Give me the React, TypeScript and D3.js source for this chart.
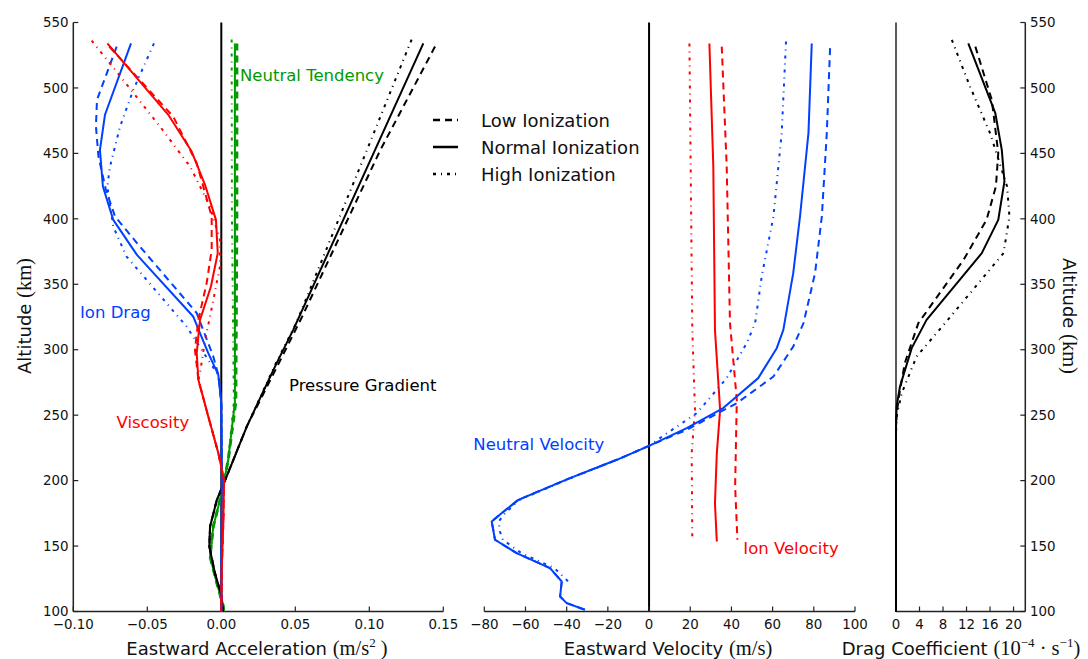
import React from 'react';
import * as d3 from 'd3';

const W = 1088;
const H = 659;

// altitude ticks shared by the three panels
const altTicks = [100, 150, 200, 250, 300, 350, 400, 450, 500, 550];
const accTicks = [-0.1, -0.05, 0, 0.05, 0.1, 0.15];
const velTicks = [-80, -60, -40, -20, 0, 20, 40, 60, 80, 100];
const dragTicks = [0, 4, 8, 12, 16, 20];

const legendLabels = ['Low Ionization', 'Normal Ionization', 'High Ionization'];

// [altitude km, value] pairs
// --- accelerations (m/s^2)
const ionDragTail = [[280.8, -0.002], [259.4, 0.0], [230, 0.0002], [200, 0.0004], [150, 0.0002], [100, 0.0]];
const ionDragNormal = [[534, -0.061], [479.5, -0.0786], [452.7, -0.082], [424.7, -0.08], [399.2, -0.073], [372.5, -0.057], [325.4, -0.019], [312.7, -0.0144], [297.4, -0.0088]];
const ionDragLow = [[531.6, -0.0707], [490.9, -0.084], [470.5, -0.0847], [447.6, -0.083], [422.2, -0.078], [401.8, -0.0718], [378.8, -0.055], [328, -0.0166], [294.8, -0.0054]];
const ionDragHigh = [[534, -0.0455], [498.5, -0.0595], [470.5, -0.0684], [440, -0.0752], [424.7, -0.077], [394, -0.073], [371.2, -0.064], [317.7, -0.0234], [290, -0.0076]];

const viscTail = [[277, -0.0155], [249, -0.0088], [221, -0.002], [200.6, 0.0018], [170, 0.0014], [131.9, 0.0003], [100, 0.0]];
const viscNormal = [[534, -0.077], [479.5, -0.0358], [451.4, -0.02], [426, -0.011], [399.2, -0.0036], [373.8, -0.0024], [348.3, -0.007], [322.8, -0.0144], [297.4, -0.0166]];
const viscLow = [[531.6, -0.0757], [478, -0.0324], [442.5, -0.0166], [401.8, -0.0065], [376.3, -0.0065], [350.9, -0.0099], [322.8, -0.0155], [299.9, -0.0178]];
const viscHigh = [[536.2, -0.0876], [502.8, -0.064], [470.5, -0.0414], [440, -0.0211], [409.4, -0.0076], [384, -0.0009], [363.5, -0.0009], [325.4, -0.0076], [307.5, -0.011], [282, -0.0144]];

const tendTail = [[216, 0.0047], [200, 0.002], [190.6, 0.0003], [165, -0.0054], [142, -0.0076], [121.7, -0.003], [103.8, 0.0014], [100, 0.0015]];
const tendNormal = [[534, 0.0092], [400, 0.0092], [260, 0.0092]];
const tendLow = [[534, 0.0105], [400, 0.0105], [260, 0.0098]];
const tendHigh = [[537, 0.007], [400, 0.0072], [260, 0.0085]];

const pressTail = [[241.3, 0.0172], [203.1, 0.0036], [185.3, -0.003], [165, -0.0076], [149.7, -0.0081], [129.3, -0.0043], [111.5, 0.0003], [100, 0.001]];
const pressNormal = [[534, 0.1365], [452.7, 0.1039], [315.2, 0.0486], [289.8, 0.0374]];
const pressLow = [[531.6, 0.1444], [452, 0.1072], [325, 0.0545], [290, 0.039]];
const pressHigh = [[537, 0.1286], [452, 0.0982], [320, 0.0505], [290, 0.037]];

// --- velocities (m/s)
const neutVelTail = [[226.6, 0], [215.9, -15.7], [201.9, -38.4], [185.3, -63.5], [175.2, -71.5], [168.8, -76.4], [154.8, -74.8], [144.6, -64.3], [133.2, -48.1], [122.9, -42.4], [111.5, -43.2], [106.4, -40], [101.3, -31.1]];
const neutVelNormal = [[534, 79], [465.5, 77.4], [401.8, 73.3], [358.5, 70], [315.2, 65.2], [301.2, 62], [278.3, 53], [255.4, 36], [240.1, 18.3]];
const neutVelLow = [[530.4, 87.9], [465.5, 86.3], [401.8, 83.9], [358.5, 80.6], [320.3, 75], [302.4, 70], [279.5, 60.4], [259.2, 42.6], [238.8, 18.3]];
const neutVelHigh = [[535.5, 66.5], [465.5, 64.4], [401.8, 60.4], [356, 54.7], [320.3, 51.5], [305, 47.4], [278.3, 37.7], [251.6, 23.2], [232.5, 5.3], [226.6, 0], [215.9, -15.5], [201.9, -38], [185.3, -63], [175, -70], [168.8, -73], [161.1, -72.4], [154.8, -71], [144.6, -62], [133.2, -46], [122.9, -39.2]];

const ionVelNormal = [[534, 29.3], [440, 31.2], [315.2, 32], [254, 34.5], [221, 32.9], [182.8, 32], [153.5, 32.9]];
const ionVelLow = [[531.6, 35.3], [440, 37.7], [320.3, 39.3], [261.7, 42.6], [195.5, 41.8], [154.8, 42.9]];
const ionVelHigh = [[534, 19.6], [315.2, 21], [254, 22.3], [221, 20.7], [154.8, 21]];

// --- drag coefficient (1e-4 /s)
const dragNormal = [[534, 12.3], [480.7, 16.9], [452.7, 18], [428.5, 18.45], [399.2, 17.4], [373.8, 14.6], [322.8, 5.2], [301.2, 2.67], [271.9, 0.68], [256.6, 0.1], [240, 0], [100, 0]];
const dragLow = [[531.6, 13.5], [490.9, 16.3], [450.2, 17.4], [424.7, 17], [399.2, 15.4], [368.7, 11.5], [320.3, 3.8], [289.8, 1.5], [261.7, 0.4], [245, 0], [100, 0]];
const dragHigh = [[536.7, 9.5], [501, 12.6], [465.5, 16], [424.7, 18.9], [401.8, 19.3], [373.8, 18.3], [320.3, 8.35], [294.8, 3.5], [266.8, 0.97], [249, 0.1], [235, 0], [100, 0]];

const RED = '#ff0000';
const BLUE = '#0040ff';
const GREEN = '#009a00';
const BLACK = '#000000';

const DASH = '7,5';
const DASHDOT = '3,5,1,5';

const sans = 'DejaVu Sans';
const serif = 'Liberation Serif';
const LABEL = 18;
const MATH = 20.5;
const SUP = 13;

const y = d3.scaleLinear().domain([100, 550]).range([611.5, 22.5]);
const xAcc = d3.scaleLinear().domain([-0.1, 0.15]).range([73.3, 443.3]);
const xVel = d3.scaleLinear().domain([-80, 100]).range([484.3, 855]);
const xDrag = d3.scaleLinear().domain([0, 22]).range([896, 1025.3]);

const fmtAcc = d3.format('.2f');

function Curve({ data, x, color, dash, width = 2 }: any) {
  const line = d3.line<number[]>().x(d => x(d[1])).y(d => y(d[0]));
  return <path d={line(data) || ''} fill="none" stroke={color} strokeWidth={width} strokeDasharray={dash} strokeLinejoin="round" />;
}

function BottomAxis({ x, ticks, fmt }: any) {
  const [a, b] = x.range();
  return (
    <g>
      <line x1={a} x2={b} y1={y(100)} y2={y(100)} stroke="#222" strokeWidth={1.5} />
      {ticks.map((t: number) => (
        <g key={t}>
          <line x1={x(t)} x2={x(t)} y1={y(100)} y2={y(100) - 5} stroke="#222" strokeWidth={1.2} />
          <text x={x(t)} y={629} textAnchor="middle" fontFamily={sans} fontSize={13.4} fill="#111">{fmt(t)}</text>
        </g>
      ))}
    </g>
  );
}

export default function App() {
  const vline = (x: number, w: number) => (
    <line x1={x} x2={x} y1={y(550)} y2={y(100)} stroke={BLACK} strokeWidth={w} />
  );

  return (
    <svg width={W} height={H} style={{ position: 'absolute', left: 0, top: 0, background: '#fff' }}>
      {/* ---------- left panel: accelerations ---------- */}
      {vline(xAcc(0), 2)}
      <line x1={xAcc.range()[0]} x2={xAcc.range()[0]} y1={y(550)} y2={y(100)} stroke="#222" strokeWidth={1.5} />
      {altTicks.map(t => (
        <g key={t}>
          <line x1={xAcc.range()[0]} x2={xAcc.range()[0] + 5} y1={y(t)} y2={y(t)} stroke="#222" strokeWidth={1.2} />
          <text x={68.5} y={y(t)} dy="0.35em" textAnchor="end" fontFamily={sans} fontSize={13.4} fill="#111">{t}</text>
        </g>
      ))}
      <BottomAxis x={xAcc} ticks={accTicks} fmt={(t: number) => fmtAcc(t)} />

      <Curve data={[...tendNormal, ...tendTail]} x={xAcc} color={GREEN} />
      <Curve data={[...tendLow, ...tendTail]} x={xAcc} color={GREEN} dash={DASH} width={3} />
      <Curve data={[...tendHigh, ...tendTail]} x={xAcc} color={GREEN} dash={DASHDOT} />

      <Curve data={[...pressNormal, ...pressTail]} x={xAcc} color={BLACK} />
      <Curve data={[...pressLow, ...pressTail]} x={xAcc} color={BLACK} dash={DASH} />
      <Curve data={[...pressHigh, ...pressTail]} x={xAcc} color={BLACK} dash={DASHDOT} />

      <Curve data={[...ionDragNormal, ...ionDragTail]} x={xAcc} color={BLUE} />
      <Curve data={[...ionDragLow, ...ionDragTail]} x={xAcc} color={BLUE} dash={DASH} />
      <Curve data={[...ionDragHigh, ...ionDragTail]} x={xAcc} color={BLUE} dash={DASHDOT} />

      <Curve data={[...viscNormal, ...viscTail]} x={xAcc} color={RED} />
      <Curve data={[...viscLow, ...viscTail]} x={xAcc} color={RED} dash={DASH} />
      <Curve data={[...viscHigh, ...viscTail]} x={xAcc} color={RED} dash={DASHDOT} />

      <text x={240} y={81} fontFamily={sans} fontSize={16.5} fill={GREEN}>Neutral Tendency</text>
      <text x={80} y={318} fontFamily={sans} fontSize={16.5} fill={BLUE}>Ion Drag</text>
      <text x={116.5} y={428} fontFamily={sans} fontSize={16.5} fill={RED}>Viscosity</text>
      <text x={289} y={391} fontFamily={sans} fontSize={16.5} fill={BLACK}>Pressure Gradient</text>

      <text transform="translate(31,316) rotate(-90)" textAnchor="middle" fontFamily={sans} fontSize={LABEL} fill="#111">
        Altitude <tspan fontFamily={serif} fontSize={MATH}>(km)</tspan>
      </text>
      <text x={257} y={655} textAnchor="middle" fontFamily={sans} fontSize={LABEL} fill="#111">
        Eastward Acceleration <tspan fontFamily={serif} fontSize={MATH}>(m/s</tspan>
        <tspan fontFamily={serif} fontSize={SUP} dy={-8}>2</tspan>
        <tspan fontFamily={serif} fontSize={MATH} dy={8}> )</tspan>
      </text>

      {/* legend */}
      {legendLabels.map((lab, i) => {
        const ly = [120, 147, 174][i];
        const dash = [DASH, undefined, DASHDOT][i];
        return (
          <g key={lab}>
            <line x1={433} x2={458} y1={ly} y2={ly} stroke={BLACK} strokeWidth={2.5} strokeDasharray={dash} />
            <text x={481} y={ly + 6.5} fontFamily={sans} fontSize={18} fill="#111">{lab}</text>
          </g>
        );
      })}

      {/* ---------- middle panel: velocities ---------- */}
      {vline(xVel(0), 2)}
      <BottomAxis x={xVel} ticks={velTicks} fmt={(t: number) => d3.format('d')(t)} />

      <Curve data={ionVelNormal} x={xVel} color={RED} />
      <Curve data={ionVelLow} x={xVel} color={RED} dash={DASH} />
      <Curve data={ionVelHigh} x={xVel} color={RED} dash={DASHDOT} />

      <Curve data={[...neutVelNormal, ...neutVelTail]} x={xVel} color={BLUE} />
      <Curve data={[...neutVelLow, ...neutVelTail]} x={xVel} color={BLUE} dash={DASH} />
      <Curve data={neutVelHigh} x={xVel} color={BLUE} dash={DASHDOT} />

      <text x={473.3} y={450} fontFamily={sans} fontSize={16.5} fill={BLUE}>Neutral Velocity</text>
      <text x={743.3} y={554} fontFamily={sans} fontSize={16.5} fill={RED}>Ion Velocity</text>

      <text x={668} y={655} textAnchor="middle" fontFamily={sans} fontSize={LABEL} fill="#111">
        Eastward Velocity <tspan fontFamily={serif} fontSize={MATH}>(m/s)</tspan>
      </text>

      {/* ---------- right panel: drag coefficient ---------- */}
      {vline(xDrag(0), 1.3)}
      <line x1={xDrag.range()[1]} x2={xDrag.range()[1]} y1={y(550)} y2={y(100)} stroke="#222" strokeWidth={1.5} />
      {altTicks.map(t => (
        <g key={t}>
          <line x1={xDrag.range()[1]} x2={xDrag.range()[1] - 5} y1={y(t)} y2={y(t)} stroke="#222" strokeWidth={1.2} />
          <text x={1030} y={y(t)} dy="0.35em" fontFamily={sans} fontSize={13.4} fill="#111">{t}</text>
        </g>
      ))}
      <BottomAxis x={xDrag} ticks={dragTicks} fmt={(t: number) => String(t)} />

      <Curve data={dragNormal} x={xDrag} color={BLACK} />
      <Curve data={dragLow} x={xDrag} color={BLACK} dash={DASH} />
      <Curve data={dragHigh} x={xDrag} color={BLACK} dash={DASHDOT} />

      <text transform="translate(1063,316) rotate(90)" textAnchor="middle" fontFamily={sans} fontSize={LABEL} fill="#111">
        Altitude <tspan fontFamily={serif} fontSize={MATH}>(km)</tspan>
      </text>
      <text x={961} y={655} textAnchor="middle" fontFamily={sans} fontSize={LABEL} fill="#111">
        Drag Coefficient <tspan fontFamily={serif} fontSize={MATH}>(10</tspan>
        <tspan fontFamily={serif} fontSize={SUP} dy={-8}>−4</tspan>
        <tspan fontFamily={serif} fontSize={MATH} dy={8}> · s</tspan>
        <tspan fontFamily={serif} fontSize={SUP} dy={-8}>−1</tspan>
        <tspan fontFamily={serif} fontSize={MATH} dy={8}>)</tspan>
      </text>
    </svg>
  );
}
